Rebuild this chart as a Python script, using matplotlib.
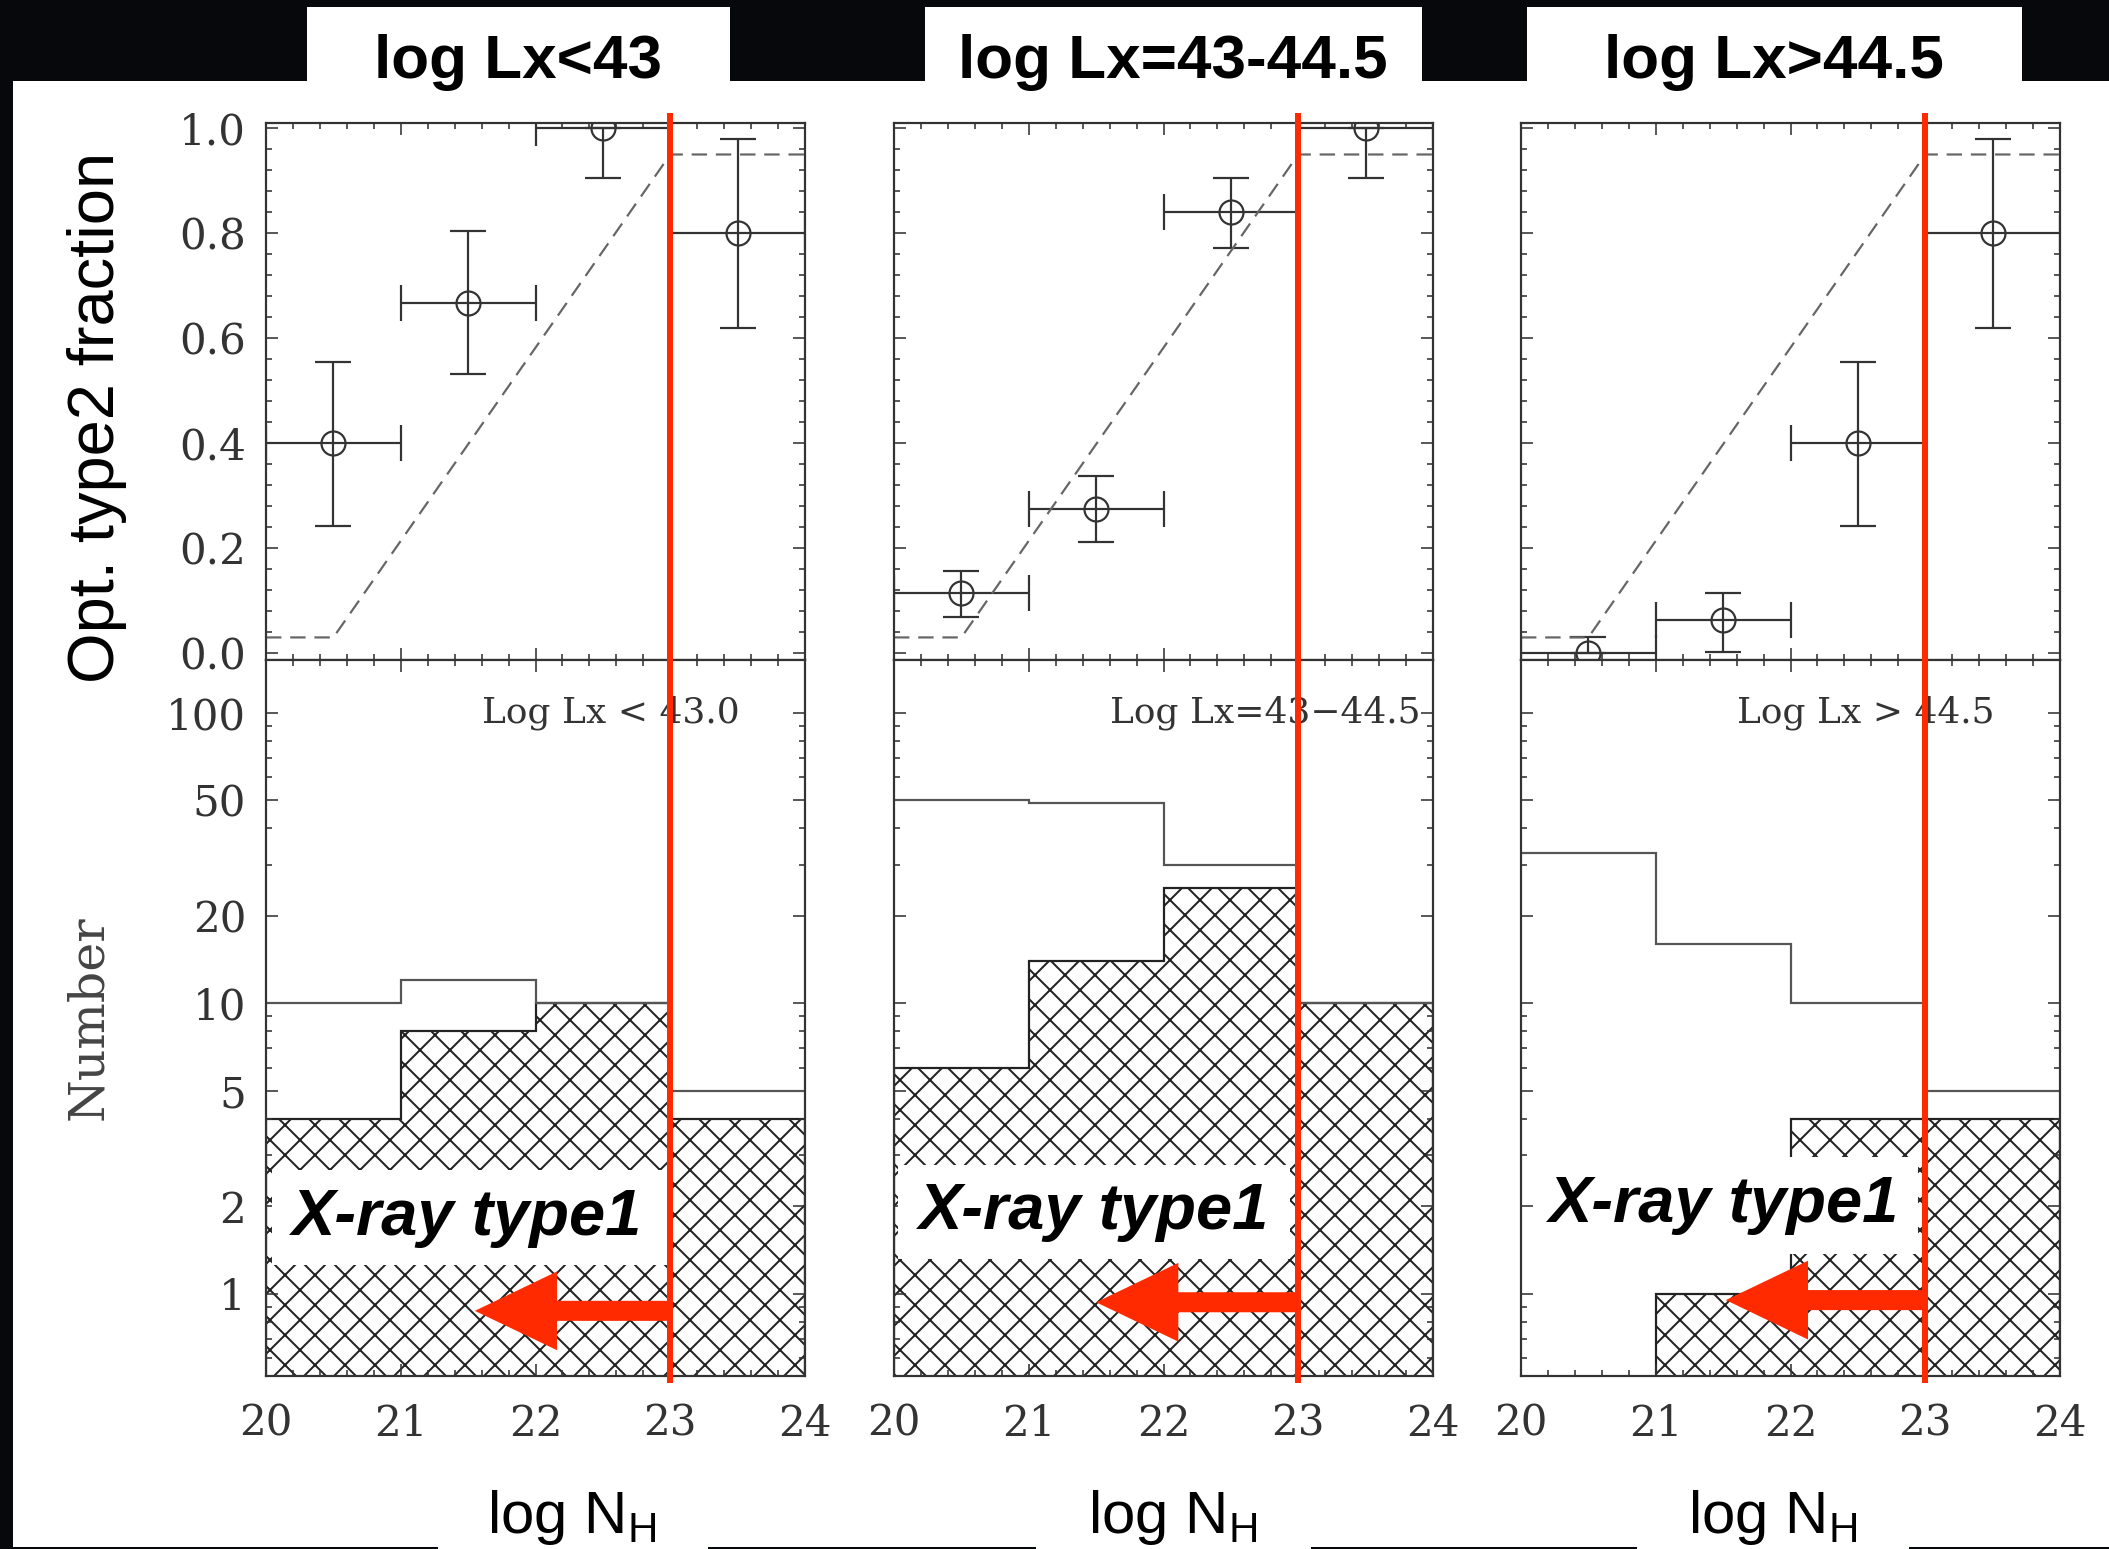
import numpy as np
import matplotlib.pyplot as plt
import matplotlib.patches as mpatches
from matplotlib.ticker import MultipleLocator, FixedLocator, NullFormatter, FormatStrFormatter

# pixel based layout; hatch unit is one inch, so dpi sets the hatch spacing
DPI = 270
W, H = 2109, 1549


def pt(px):
    return px * 72.0 / DPI


plt.rcParams['font.family'] = 'DejaVu Serif'
plt.rcParams['mathtext.fontset'] = 'custom'
plt.rcParams['mathtext.rm'] = 'Liberation Sans'
plt.rcParams['hatch.linewidth'] = pt(2.0)

RED = '#ff2a00'
INK = '#333333'

# ---------------- data ----------------
titles = ['log Lx<43', 'log Lx=43-44.5', 'log Lx>44.5']
inset_labels = ['Log Lx < 43.0', 'Log Lx=43\u221244.5', 'Log Lx > 44.5']
nh_edges = [20, 21, 22, 23, 24]
nh_centers = [20.5, 21.5, 22.5, 23.5]
nh_cut = 23

# all objects / optical type2 per N_H bin
n_all = [[10, 12, 10, 5], [50, 49, 30, 10], [33, 16, 10, 5]]
n_type2 = [[4, 8, 10, 4], [6, 14, 25, 10], [0, 1, 4, 4]]

# type2 fraction with asymmetric errors
frac = [[0.40, 0.667, 1.0, 0.80], [0.115, 0.275, 0.84, 1.0], [0.0, 0.0625, 0.40, 0.80]]
frac_lo = [[0.157, 0.135, 0.095, 0.18], [0.047, 0.063, 0.068, 0.095], [0.0, 0.06, 0.157, 0.18]]
frac_hi = [[0.155, 0.138, 0.0, 0.18], [0.041, 0.062, 0.065, 0.0], [0.03, 0.053, 0.155, 0.18]]

# expected fraction if X-ray absorption alone decided the optical type
model_x = [20, 20.5, 23, 24]
model_y = [0.03, 0.03, 0.95, 0.95]

# "X-ray type1" arrows: tip in log N_H, height in axes fraction
arrow_tip = [21.55, 21.5, 21.52]
arrow_y = [0.091, 0.103, 0.106]

# ---------------- figure / backdrop ----------------
fig = plt.figure(figsize=(W / DPI, H / DPI), dpi=DPI, facecolor='#07080b')


def fig_rect(x0, y0, x1, y1, **kw):
    # rectangle given in pixels from the top-left corner
    r = mpatches.Rectangle((x0 / W, 1 - y1 / H), (x1 - x0) / W, (y1 - y0) / H,
                           transform=fig.transFigure, zorder=-10, **kw)
    fig.add_artist(r)


fig_rect(13, 81, W, 1547, fc='white', ec='none')
for bx0, bx1 in [(307, 730), (925, 1422), (1527, 2022)]:
    fig_rect(bx0, 7, bx1, 82, fc='white', ec='none')
for bx0, bx1 in [(438, 708), (1036, 1311), (1637, 1909)]:
    fig_rect(bx0, 1500, bx1, H, fc='white', ec='none')


def style(ax):
    ax.tick_params(which='both', direction='in', top=True, right=True,
                   color=INK, width=pt(1.6), labelcolor=INK, labelsize=pt(42))
    ax.tick_params(which='major', length=pt(12))
    ax.tick_params(which='minor', length=pt(6))
    ax.tick_params(axis='x', pad=pt(27))
    ax.tick_params(axis='y', pad=pt(20))
    for s in ax.spines.values():
        s.set_linewidth(pt(2.2))
        s.set_color(INK)


x_left = [266, 894, 1521]
ax_w = 539

for i in range(3):
    x0 = x_left[i] / W
    axf = fig.add_axes([x0, 1 - 660 / H, ax_w / W, 537 / H])
    axn = fig.add_axes([x0, 1 - 1376 / H, ax_w / W, 716 / H])

    # ---- type2 fraction ----
    axf.errorbar(nh_centers, frac[i], xerr=0.5, yerr=[frac_lo[i], frac_hi[i]],
                 fmt='o', ms=pt(24), mfc='none', mec=INK, mew=pt(2.2),
                 ecolor=INK, elinewidth=pt(2.2), capsize=pt(18), capthick=pt(2.2))
    axf.plot(model_x, model_y, color='#666666', lw=pt(2.2), dashes=(7, 4))
    axf.set_xlim(20, 24)
    axf.set_ylim(-0.013, 1.01)
    axf.xaxis.set_major_locator(MultipleLocator(1))
    axf.xaxis.set_minor_locator(MultipleLocator(0.2))
    axf.yaxis.set_major_locator(MultipleLocator(0.2))
    axf.yaxis.set_minor_locator(MultipleLocator(0.04))
    axf.yaxis.set_major_formatter(FormatStrFormatter('%.1f'))
    style(axf)
    axf.tick_params(labelbottom=False, labelleft=(i == 0))
    axf.axvline(nh_cut, ymin=0, ymax=1.013, color=RED, lw=pt(6), clip_on=False, zorder=20)

    # ---- number histogram: hatched type2, open outline for all ----
    axn.set_yscale('log')
    axn.stairs(n_type2[i], nh_edges, baseline=0, fill=True, facecolor='none',
               edgecolor='#222222', linewidth=pt(2.2), hatch='xxx', zorder=1)
    axn.stairs(n_all[i], nh_edges, baseline=None, color='#555555', lw=pt(2.2), zorder=2)
    axn.set_xlim(20, 24)
    axn.set_ylim(0.52, 152)
    axn.xaxis.set_major_locator(MultipleLocator(1))
    axn.xaxis.set_minor_locator(MultipleLocator(0.2))
    axn.yaxis.set_major_locator(FixedLocator([1, 2, 5, 10, 20, 50, 100]))
    axn.yaxis.set_major_formatter(FormatStrFormatter('%d'))
    axn.yaxis.set_minor_locator(FixedLocator([0.6, 0.7, 0.8, 0.9, 3, 4, 6, 7, 8, 9,
                                              30, 40, 60, 70, 80, 90]))
    axn.yaxis.set_minor_formatter(NullFormatter())
    style(axn)
    axn.tick_params(labelleft=(i == 0))

    axn.text(21.6, 0.926, inset_labels[i], transform=axn.get_xaxis_transform(),
             ha='left', va='center', fontsize=pt(36), color=INK, zorder=3)

    # white label box with the arrow pointing to low N_H
    bx = [(0.011, 0.155, 0.734, 0.133), (0.007, 0.163, 0.727, 0.132),
          (0.022, 0.170, 0.714, 0.136)][i]
    axn.add_patch(mpatches.Rectangle(bx[:2], bx[2], bx[3], transform=axn.transAxes,
                                     fc='white', ec='none', zorder=6))
    tx = [(0.373, 0.221), (0.372, 0.229), (0.377, 0.239)][i]
    axn.text(tx[0], tx[1], 'X-ray type1', transform=axn.transAxes, ha='center', va='center',
             family='Liberation Sans', weight='bold', style='italic',
             fontsize=pt(65), color='black', zorder=7)
    axn.add_patch(mpatches.FancyArrow(nh_cut, arrow_y[i], arrow_tip[i] - nh_cut, 0,
                                      width=0.028, head_width=0.110, head_length=0.61,
                                      length_includes_head=True,
                                      transform=axn.get_xaxis_transform(),
                                      color=RED, lw=0, zorder=8))
    axn.axvline(nh_cut, ymin=-0.005, ymax=1, color=RED, lw=pt(6), clip_on=False, zorder=20)

# ---------------- outer labels ----------------
for cx, t in zip([518, 1173, 1774], titles):
    fig.text(cx / W, 1 - 78 / H, t, ha='center', va='baseline', family='Liberation Sans',
             weight='bold', fontsize=pt(62), color='black')
for cx in [572, 1173, 1773]:
    fig.text(cx / W, 1 - 1533 / H, r'log N$_{\mathrm{H}}$', ha='center', va='baseline',
             family='Liberation Sans', fontsize=pt(60), color='black')

fig.text(97 / W, 1 - 417 / H, 'Opt. type2 fraction', rotation=90, ha='center', va='center',
         family='Liberation Sans', fontsize=pt(65), color='black')
fig.text(89 / W, 1 - 1018 / H, 'Number', rotation=90, ha='center', va='center',
         fontsize=pt(49), color='#444444')

fig.savefig('out.png', dpi=DPI, facecolor=fig.get_facecolor())
